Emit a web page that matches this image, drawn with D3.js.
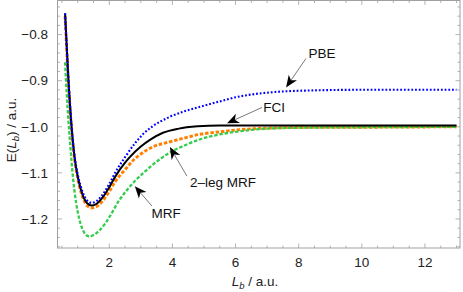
<!DOCTYPE html>
<html><head><meta charset="utf-8">
<script src="https://cdn.jsdelivr.net/npm/d3@7"></script>
<style>
html,body{margin:0;padding:0;background:#fff;}
svg{display:block;font-family:"Liberation Sans",Arial,Helvetica,sans-serif;}
</style></head>
<body><svg id="c" width="463" height="292"></svg>
<script>
// ---- data ----
const fciX = [0.6,0.7,0.8,0.9,1.0,1.1,1.2,1.3,1.45,1.6,1.8,2.0,2.2,2.5,2.65,3.0,3.3,3.7,4.2,4.8,5.5,7,10,13];
const fciY = [-0.754,-0.890,-0.995,-1.066,-1.108,-1.136,-1.155,-1.166,-1.171,-1.167,-1.152,-1.131,-1.107,-1.078,-1.066,-1.043,-1.028,-1.013,-1.004,-0.999,-0.997,-0.997,-0.997,-0.997];

const pbeX = [0.6,0.7,0.8,0.9,1.0,1.1,1.2,1.3,1.45,1.6,1.8,2.0,2.2,2.5,2.8,3.1,3.35,3.9,4.4,4.9,5.5,6.0,6.5,7.0,7.6,8.5,9.3,11,13];
const pbeY = [-0.754,-0.889,-0.993,-1.063,-1.103,-1.130,-1.149,-1.160,-1.165,-1.161,-1.146,-1.124,-1.098,-1.066,-1.037,-1.014,-1.000,-0.979,-0.966,-0.956,-0.945,-0.936,-0.930,-0.926,-0.923,-0.921,-0.920,-0.9195,-0.9195];

const mrf2X = [0.6,0.7,0.8,0.9,1.0,1.1,1.2,1.3,1.45,1.6,1.8,2.0,2.2,2.5,2.8,3.0,3.4,3.9,4.4,4.9,5.5,6.0,7.0,8,10,13];
const mrf2Y = [-0.760,-0.897,-1.000,-1.070,-1.112,-1.141,-1.160,-1.171,-1.176,-1.173,-1.160,-1.140,-1.118,-1.093,-1.070,-1.059,-1.043,-1.033,-1.024,-1.016,-1.011,-1.007,-1.003,-1.0015,-1.001,-1.000];

const mrfX = [0.6,0.65,0.7,0.76,0.85,0.95,1.05,1.15,1.25,1.37,1.5,1.7,1.87,2.03,2.3,2.6,2.82,3.1,3.35,3.87,4.4,4.93,5.46,6.0,7,8,10,13];
const mrfY = [-0.860,-0.925,-0.980,-1.036,-1.110,-1.165,-1.200,-1.222,-1.234,-1.238,-1.235,-1.224,-1.210,-1.193,-1.161,-1.134,-1.117,-1.099,-1.084,-1.058,-1.040,-1.026,-1.017,-1.011,-1.004,-1.002,-1.001,-1.000];

const xTicks = [2,4,6,8,10,12];
const yTicks = [-0.8,-0.9,-1.0,-1.1,-1.2];
const yTickLabels = ["\u22120.8","\u22120.9","\u22121.0","\u22121.1","\u22121.2"];

const seriesNames = ["2-leg MRF","MRF","FCI","PBE"];
const annoText = ["PBE","FCI","2\u2013leg MRF","MRF"];
// annotation anchors in data units
const annoTextX = [8.74,7.22,5.60,3.80];
const annoTextY = [-0.841,-0.958,-1.120,-1.187];
const annoFromX = [8.23,6.84,4.46,3.35];
const annoFromY = [-0.852,-0.958,-1.107,-1.172];
const annoTipX  = [7.60,5.73,3.92,2.81];
const annoTipY  = [-0.9145,-0.9925,-1.044,-1.129];

// ---- layout ----
const svg = d3.select("#c");
const L = 57.5, R = 460, T = 0.5, B = 248;
const x = d3.scaleLinear().domain([0.36,13.11]).range([L,R]);
const y = d3.scaleLinear().domain([-1.263,-0.726]).range([B,T]);

svg.append("defs").append("clipPath").attr("id","clip")
  .append("rect").attr("x",L).attr("y",T).attr("width",R-L).attr("height",B-T);

const frameCol = "#a0a0a0";
svg.append("rect").attr("x",L).attr("y",T).attr("width",R-L).attr("height",B-T)
  .attr("fill","none").attr("stroke",frameCol).attr("stroke-width",1);

const xMinor = d3.range(0.5,13.01,0.5);
const yMinor = d3.range(-1.26,-0.7299,0.02);
const g = svg.append("g").attr("stroke",frameCol).attr("stroke-width",0.8);
xMinor.forEach(v=>{
  const major = xTicks.some(t=>Math.abs(t-v)<1e-6);
  const len = major?4.5:2.5;
  const px = x(v);
  if(px<L||px>R) return;
  g.append("line").attr("x1",px).attr("x2",px).attr("y1",B).attr("y2",B-len);
  g.append("line").attr("x1",px).attr("x2",px).attr("y1",T).attr("y2",T+len);
});
yMinor.forEach(v=>{
  const major = yTicks.some(t=>Math.abs(t-v)<1e-6);
  const len = major?4.5:2.5;
  const py = y(v);
  if(py<T||py>B) return;
  g.append("line").attr("y1",py).attr("y2",py).attr("x1",L).attr("x2",L+len);
  g.append("line").attr("y1",py).attr("y2",py).attr("x1",R).attr("x2",R-len);
});

svg.append("g").selectAll("text").data(xTicks).join("text")
  .attr("x",d=>x(d)).attr("y",267).attr("text-anchor","middle")
  .attr("font-size",13.5).attr("fill","#222").text(d=>d);
svg.append("g").selectAll("text").data(yTicks).join("text")
  .attr("x",48).attr("y",d=>y(d)+4.8).attr("text-anchor","end")
  .attr("font-size",13.5).attr("fill","#222").text((d,i)=>yTickLabels[i]);

const xl = svg.append("text").attr("x",255).attr("y",286).attr("text-anchor","middle")
  .attr("font-size",13.5).attr("fill","#222");
xl.append("tspan").attr("font-style","italic").text("L");
xl.append("tspan").attr("font-style","italic").attr("font-size",9.5).attr("dy",3).text("b");
xl.append("tspan").attr("dy",-3).text(" / a.u.");

const yl = svg.append("text").attr("transform","translate(16,130) rotate(-90)")
  .attr("text-anchor","middle").attr("font-size",13.5).attr("fill","#222");
yl.append("tspan").text("E(");
yl.append("tspan").attr("font-style","italic").text("L");
yl.append("tspan").attr("font-style","italic").attr("font-size",9.5).attr("dy",3).text("b");
yl.append("tspan").attr("dy",-3).text(") / a.u.");

const line = d3.line().x(d=>x(d[0])).y(d=>y(d[1])).curve(d3.curveMonotoneX);
const zip = (a,b)=>a.map((v,i)=>[v,b[i]]);
const curves = [
  {name:seriesNames[0], d:zip(mrf2X,mrf2Y), color:"#ff7f00", w:2.9, dash:"3.5,1.8"},
  {name:seriesNames[1], d:zip(mrfX,mrfY), color:"#33cc4c", w:2.3, dash:"3.5,1.8"},
  {name:seriesNames[2], d:zip(fciX,fciY), color:"#000000", w:2.0, dash:null},
  {name:seriesNames[3], d:zip(pbeX,pbeY), color:"#0000ff", w:2.1, dash:"1.8,1.9"}
];
const cg = svg.append("g").attr("clip-path","url(#clip)");
curves.forEach(c=>{
  cg.append("path").attr("d",line(c.d)).attr("fill","none")
    .attr("stroke",c.color).attr("stroke-width",c.w)
    .attr("stroke-dasharray",c.dash).attr("stroke-linejoin","round");
});

const ag = svg.append("g");
annoText.forEach((t,i)=>{
  const x0=x(annoFromX[i]), y0=y(annoFromY[i]), x1=x(annoTipX[i]), y1=y(annoTipY[i]);
  const dx=x1-x0, dy=y1-y0, len=Math.hypot(dx,dy), ux=dx/len, uy=dy/len;
  const hl=12, hw=5;
  const bx=x1-ux*hl, by=y1-uy*hl;
  ag.append("line").attr("x1",x0).attr("y1",y0).attr("x2",bx+ux*3).attr("y2",by+uy*3)
    .attr("stroke","#555").attr("stroke-width",0.8);
  const nx=-uy, ny=ux;
  const pts=[[x1,y1],[bx+nx*hw,by+ny*hw],[x1-ux*hl*0.72,y1-uy*hl*0.72],[bx-nx*hw,by-ny*hw]];
  ag.append("polygon").attr("points",pts.map(p=>p.join(",")).join(" ")).attr("fill","#000");
  ag.append("text").attr("x",x(annoTextX[i])).attr("y",y(annoTextY[i])+4.8)
    .attr("text-anchor","middle").attr("font-size",13.5).attr("fill","#111").text(t);
});
</script></body></html>
